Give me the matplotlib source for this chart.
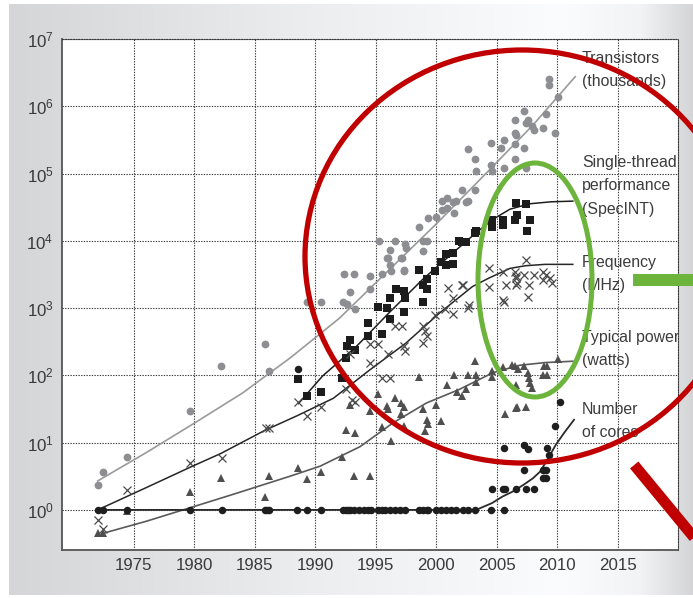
import numpy as np
import matplotlib
matplotlib.use("Agg")
import matplotlib.pyplot as plt
from matplotlib import font_manager
from matplotlib.patches import Ellipse, Rectangle
from matplotlib.lines import Line2D

_names = {f.name for f in font_manager.fontManager.ttflist}
if 'Liberation Sans Narrow' in _names:
    FAM = 'Liberation Sans Narrow'
    LABEL_SIZE, TICK_SIZE = 13.7, 14
else:
    FAM = 'Liberation Sans'
    LABEL_SIZE, TICK_SIZE = 11.4, 12.2

plt.rcParams['font.family'] = [FAM, 'Liberation Sans', 'DejaVu Sans']
plt.rcParams['mathtext.fontset'] = 'custom'
plt.rcParams['mathtext.rm'] = FAM
plt.rcParams['mathtext.it'] = FAM + ':italic'
plt.rcParams['mathtext.bf'] = FAM + ':bold'

# ---------------- data (log10 values) ----------------
trans_year = [1972.0, 1972.4, 1974.4, 1979.6, 1982.2, 1985.8, 1986.2, 1989.3, 1990.5,
              1992.3, 1992.6, 1992.9, 1993.3, 1992.4, 1993.2, 1994.5, 1994.5, 1995.3,
              1995.5, 1995.9, 1996.2, 1996.2, 1996.6, 1997.2, 1997.3, 1997.4, 1997.5,
              1998.6, 1998.9, 1999.2, 1998.9, 1999.3, 2000.0, 2000.5, 2000.5, 2000.9,
              2000.9, 2001.5, 2001.6, 2002.1, 2002.6, 2002.6, 2003.2, 2003.2, 2003.3,
              2004.5, 2004.5, 2004.6, 2005.4, 2005.6, 2005.6, 2006.5, 2006.5, 2006.5,
              2006.5, 2006.6, 2007.3, 2007.6, 2007.4, 2007.9, 2008.1, 2008.8, 2009.1,
              2009.8, 2007.3, 2007.4, 2009.3, 2009.3, 2010.1, 1996.0, 1996.3, 1997.1,
              2001.4, 2002.5, 1997.3]
trans_log = [0.37, 0.56, 0.79, 1.475, 2.14, 2.46, 2.06, 3.09, 3.09,
             3.09, 3.06, 3.24, 2.98, 3.50, 3.50, 3.47, 3.29, 4.00,
             3.50, 3.75, 3.86, 3.64, 4.00, 3.75, 3.57, 3.96, 3.89,
             4.20, 4.00, 4.00, 3.85, 4.34, 4.35, 4.59, 4.46, 4.63,
             4.49, 4.41, 4.59, 4.76, 4.59, 5.36, 5.21, 4.76, 5.04,
             5.45, 5.13, 5.04, 5.38, 5.50, 5.08, 5.80, 5.60, 5.44,
             5.21, 5.58, 5.93, 5.80, 5.75, 5.70, 5.65, 5.68, 5.89,
             5.60, 5.38, 5.08, 6.40, 6.32, 6.14, 3.75, 3.55, 3.74,
             4.57, 4.58, 3.55]

perf_year = [1988.6, 1989.3, 1990.5, 1992.2, 1992.5, 1992.6, 1992.9, 1993.3, 1994.4,
             1994.4, 1995.2, 1995.5, 1995.9, 1996.2, 1996.2, 1996.7, 1997.3, 1997.4,
             1997.3, 1998.9, 1998.6, 1998.9, 1999.2, 1999.2, 1999.9, 2000.4, 2000.8,
             2001.4, 2001.4, 2001.9, 2002.1, 2002.5, 2003.2, 2003.3, 2004.6, 2004.6,
             2005.5, 2005.5, 2006.5, 2006.6, 2006.7, 2007.4, 2007.8, 2007.5, 2000.8]
perf_log = [1.94, 1.70, 1.75, 1.96, 2.26, 2.43, 2.52, 2.38, 2.78,
            2.58, 3.02, 2.62, 3.00, 3.15, 2.84, 3.28, 3.25, 3.15,
            2.94, 3.09, 3.57, 3.35, 3.43, 3.28, 3.55, 3.69, 3.80,
            3.82, 3.66, 3.99, 3.98, 3.98, 4.12, 4.14, 4.31, 4.21,
            4.31, 4.24, 4.31, 4.56, 4.39, 4.54, 4.31, 4.15, 3.64]

freq_year = [1972.0, 1972.4, 1974.4, 1979.6, 1982.3, 1985.9, 1986.2, 1988.6, 1989.3,
             1990.5, 1992.5, 1993.3, 1992.9, 1994.5, 1995.2, 1994.5, 1995.5, 1996.2,
             1996.0, 1996.6, 1997.2, 1997.3, 1997.4, 1998.9, 1999.1, 1998.9, 1999.2,
             1999.9, 2000.7, 2001.4, 2001.4, 2001.0, 2002.1, 2002.6, 2002.2, 2002.7,
             2004.4, 2005.5, 2005.8, 2006.6, 2006.6, 2004.4, 2005.5, 2005.6, 2006.5,
             2006.6, 2006.7, 2007.4, 2007.3, 2007.7, 2007.6, 2008.1, 2008.8, 2009.1,
             2009.4, 2009.6, 2008.8, 1993.0]
freq_log = [-0.15, -0.29, 0.30, 0.70, 0.77, 1.22, 1.22, 1.61, 1.40,
            1.53, 1.79, 1.61, 2.32, 2.47, 2.47, 2.19, 1.96, 1.96,
            2.32, 2.73, 2.74, 2.43, 2.36, 2.73, 2.66, 2.48, 2.59,
            2.89, 2.98, 2.91, 3.15, 3.30, 3.35, 3.00, 3.34, 3.04,
            3.59, 3.54, 3.34, 3.44, 3.34, 3.32, 3.12, 3.09, 3.54,
            3.47, 3.37, 3.72, 3.49, 3.34, 3.17, 3.49, 3.54, 3.49,
            3.44, 3.37, 3.42, 1.64]

power_year = [1972.0, 1972.4, 1974.4, 1979.6, 1982.2, 1985.8, 1986.2, 1988.6, 1989.3,
              1990.5, 1992.2, 1992.5, 1993.3, 1993.2, 1992.9, 1994.5, 1994.5, 1995.2,
              1995.9, 1996.0, 1996.6, 1997.1, 1997.3, 1997.1, 1995.5, 1996.3, 1997.3,
              1998.6, 1998.9, 1999.2, 1999.3, 1999.1, 2000.0, 2000.4, 2000.9, 2001.5,
              2001.7, 2002.1, 2002.5, 2002.6, 2003.2, 2003.3, 2003.3, 2004.6, 2004.6,
              2005.5, 2005.7, 2006.6, 2006.5, 2007.3, 2006.8, 2007.6, 2007.7, 2007.8,
              2007.9, 2006.6, 2008.9, 2009.2, 2008.8, 2009.2, 2010.1, 2006.7, 2007.4,
              2006.3]
power_log = [-0.34, -0.34, -0.02, 0.26, 0.47, 0.19, 0.51, 0.63, 0.46,
             0.57, 0.78, 1.19, 1.14, 0.51, 1.56, 1.47, 0.50, 1.73,
             1.54, 1.50, 1.66, 1.59, 1.53, 1.42, 1.23, 1.03, 1.25,
             1.98, 1.50, 1.34, 1.27, 1.17, 1.56, 1.32, 1.86, 2.01,
             1.76, 1.70, 1.80, 2.01, 2.22, 2.01, 1.90, 2.06, 1.98,
             2.13, 1.42, 1.52, 2.14, 2.14, 2.10, 2.04, 1.96, 1.89,
             1.81, 1.86, 2.14, 2.14, 2.01, 2.01, 2.24, 1.53, 1.53,
             2.16]

cores_year = [1972.0, 1972.4, 1974.4, 1979.6, 1982.3, 1985.8, 1986.0, 1986.2, 1988.5,
              1989.3, 1990.5, 1992.3, 1992.5, 1992.7, 1992.9, 1993.2, 1993.6, 1994.0,
              1994.4, 1994.6, 1995.2, 1995.5, 1995.8, 1996.2, 1996.6, 1997.0, 1997.4,
              1998.6, 1998.9, 1999.2, 1999.3, 2000.0, 2000.4, 2000.8, 2001.2, 2001.6,
              2002.2, 2002.6, 2003.2, 2004.5, 2005.6,
              2004.6, 2005.5, 2005.7, 2006.6, 2007.4, 2008.1, 2005.6, 2007.3, 2007.6,
              2007.3, 2008.8, 2008.9, 2009.1, 2008.8, 2009.1, 2009.2, 2009.3, 2009.8,
              2010.2, 1988.6]
cores_log = [0.0] * 41 + [0.31, 0.31, 0.31, 0.31, 0.31, 0.31, 0.92, 0.97, 0.90,
                          0.60, 0.60, 0.60, 0.60, 0.47, 0.47, 0.92, 0.82, 1.24,
                          1.61, 2.10]

# trend curves (log10 values)
trans_fit_year = [1972, 1976, 1980, 1984, 1988, 1992, 1996, 2000, 2004, 2008, 2011.5]
trans_fit_log = [0.43, 0.85, 1.29, 1.74, 2.27, 2.85, 3.55, 4.25, 4.98, 5.72, 6.44]

perf_fit_year = [1988.6, 1990.6, 1993.4, 1996.1, 1998.9, 2001.7, 2003.3, 2004.7, 2006.1,
                 2007.7, 2009.5, 2011.3]
perf_fit_log = [1.58, 1.99, 2.43, 2.93, 3.43, 3.87, 4.12, 4.32, 4.47, 4.55, 4.58, 4.59]

freq_fit_year = [1972, 1976, 1979.6, 1982.2, 1985.8, 1988.5, 1991.5, 1994.5, 1997.5,
                 2000.3, 2003.0, 2004.4, 2006.1, 2007.4, 2009, 2011.3]
freq_fit_log = [0.0, 0.33, 0.63, 0.84, 1.18, 1.40, 1.66, 2.08, 2.48, 2.93, 3.32, 3.45,
                3.59, 3.63, 3.65, 3.65]

power_fit_year = [1972.4, 1976, 1979.6, 1983, 1987.9, 1990.4, 1993.7, 1996.4, 1999.2,
                  2001.9, 2004.7, 2006.9, 2009, 2011.3]
power_fit_log = [-0.35, -0.17, 0.03, 0.22, 0.50, 0.65, 0.94, 1.29, 1.59, 1.79, 2.04,
                 2.15, 2.19, 2.21]

cores_fit_year = [1972, 2003.3, 2004.6, 2005.5, 2006.3, 2007.2, 2008.0, 2008.6, 2009.3,
                  2009.9, 2010.6, 2011.4]
cores_fit_log = [0.0, 0.0, 0.10, 0.20, 0.27, 0.37, 0.47, 0.57, 0.78, 0.97, 1.15, 1.34]

label_lines = [["Transistors", "(thousands)"],
               ["Single-thread", "performance", "(SpecINT)"],
               ["Frequency", "(MHz)"],
               ["Typical power", "(watts)"],
               ["Number", "of cores"]]
label_first_baseline_px = [63, 167, 267, 342, 414]

x_ticks = [1975, 1980, 1985, 1990, 1995, 2000, 2005, 2010, 2015]
y_exps = [0, 1, 2, 3, 4, 5, 6, 7]

# ---------------- figure ----------------
W, H = 693, 598
fig = plt.figure(figsize=(W / 100, H / 100), dpi=100)
fig.patch.set_facecolor('white')

# background gradient panel
bg = fig.add_axes([9 / W, 3 / H, 1 - 9 / W, 1 - 7 / H], zorder=-10)
px = np.arange(9, W)
anchors_x = [9, 60, 300, 560, 640, 693]
anchors_v = [0.835, 0.85, 0.925, 0.985, 0.95, 0.83]
v = np.interp(px, anchors_x, anchors_v)
grad = np.zeros((2, len(px), 3))
grad[:, :, 0] = v
grad[:, :, 1] = v + 0.003
grad[:, :, 2] = np.minimum(v + 0.01, 1.0)
bg.imshow(grad, aspect='auto', extent=[0, 1, 0, 1], interpolation='bilinear')
bg.set_axis_off()

L, R, T, B = 62, 678, 39, 550
ax = fig.add_axes([L / W, 1 - B / H, (R - L) / W, (B - T) / H])
ax.set_facecolor('white')
ax.set_yscale('log')
ax.set_xlim(1969.05, 2020)
ax.set_ylim(10 ** -0.596, 1e7)

ax.set_xticks(x_ticks)
ax.set_xticklabels([str(t) for t in x_ticks])
ax.set_yticks([10.0 ** e for e in y_exps])
ax.set_yticklabels([r'$\mathregular{10^{%d}}$' % e for e in y_exps])
ax.yaxis.set_minor_locator(matplotlib.ticker.NullLocator())
ax.tick_params(axis='both', length=0, labelsize=TICK_SIZE, labelcolor='#3a3a3a')
ax.tick_params(axis='x', pad=6)
ax.tick_params(axis='y', pad=6)

ax.grid(True, which='major', color='#3c3c3c', linestyle=(0, (1.2, 1.2)), linewidth=0.8)
ax.set_axisbelow(True)
for s in ['left', 'bottom']:
    ax.spines[s].set_color('#555555')
    ax.spines[s].set_linewidth(1.3)
for s in ['top', 'right']:
    ax.spines[s].set_color('#3c3c3c')
    ax.spines[s].set_linestyle((0, (1.2, 1.2)))
    ax.spines[s].set_linewidth(0.8)

def p(v):
    return 10.0 ** np.asarray(v)

# trend lines
ax.plot(trans_fit_year, p(trans_fit_log), color='#9a9a9a', lw=1.2, zorder=2)
ax.plot(perf_fit_year, p(perf_fit_log), color='#1e1e1e', lw=1.1, zorder=2)
ax.plot(freq_fit_year, p(freq_fit_log), color='#262626', lw=1.1, zorder=2)
ax.plot(power_fit_year, p(power_fit_log), color='#5a5a5a', lw=1.2, zorder=2)
ax.plot(cores_fit_year, p(cores_fit_log), color='#2a2a2a', lw=1.3, zorder=2)

# points
ax.plot(trans_year, p(trans_log), 'o', color='#8d8e91', ms=5.6, mew=0, zorder=3)
ax.plot(perf_year, p(perf_log), 's', color='#1c1c1c', ms=5.2, mew=0, zorder=3)
ax.plot(freq_year, p(freq_log), 'x', color='#4a4a4a', ms=5.5, mew=0.9, zorder=3)
ax.plot(power_year, p(power_log), '^', color='#4f4f4f', ms=5.6, mew=0, zorder=3)
ax.plot(cores_year, p(cores_log), 'o', color='#1e1e1e', ms=5.4, mew=0, zorder=3)

# series labels
for lines, b0 in zip(label_lines, label_first_baseline_px):
    for i, s in enumerate(lines):
        fig.text(582 / W, 1 - (b0 + 23.3 * i) / H, s, fontsize=LABEL_SIZE, color='#3c3c3c',
                 ha='left', va='baseline', zorder=4)

# highlight overlays (magnifier and ellipse)
red = '#c00000'
green = '#6cb43c'
fig.add_artist(Ellipse((522 / W, 1 - 256.5 / H), 434 / W, 413 / H, fill=False,
                       edgecolor=red, lw=3.8, transform=fig.transFigure, zorder=10))
fig.add_artist(Ellipse((535 / W, 1 - 280 / H), 114 / W, 234 / H, fill=False,
                       edgecolor=green, lw=3.6, transform=fig.transFigure, zorder=11))
fig.add_artist(Rectangle((633 / W, 1 - 286 / H), 60 / W, 12 / H, facecolor=green,
                         edgecolor='none', transform=fig.transFigure, zorder=11))
fig.add_artist(Line2D([634.2 / W, 720 / W], [1 - 465 / H, 1 - 569 / H], color=red,
                      lw=7.8, solid_capstyle='butt', transform=fig.transFigure, zorder=10))

fig.savefig('out.png', dpi=100)
